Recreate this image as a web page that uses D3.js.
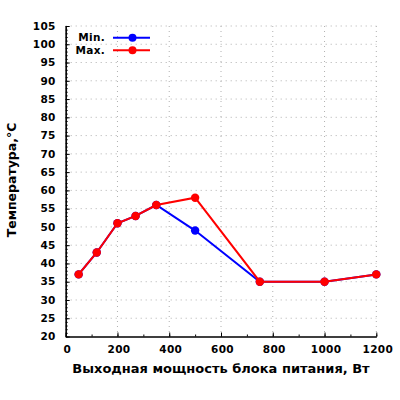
<!DOCTYPE html>
<html><head><meta charset="utf-8">
<script src="https://cdn.jsdelivr.net/npm/d3@7"></script>
<style>
body{margin:0;background:#fff;}
text{font-family:"DejaVu Sans",sans-serif;font-weight:bold;fill:#000;}
</style></head>
<body><svg id="c" width="400" height="400"></svg>
<script>
const powerW = [50, 120, 200, 270, 350, 500, 750, 1000, 1200];
const minTemp = [37, 43, 51, 53, 56, 49, 35, 35, 37];
const maxTemp = [37, 43, 51, 53, 56, 58, 35, 35, 37];
const xTicks = [0, 200, 400, 600, 800, 1000, 1200];
const yTicks = [20,25,30,35,40,45,50,55,60,65,70,75,80,85,90,95,100,105];
const seriesNames = ["Min.", "Max."];
const seriesColors = ["#0000ff", "#ff0000"];

const svg = d3.select("#c");
const L = 65.7, R = 376.3, T = 26, B = 336.5;
const x = d3.scaleLinear().domain([0, 1200]).range([L, R]);
const y = d3.scaleLinear().domain([20, 105]).range([B, T]);

// grid
const g = svg.append("g");
g.selectAll(".gy").data(yTicks.filter(d => d > 20)).join("line")
  .attr("x1", L).attr("x2", R).attr("y1", d => y(d)).attr("y2", d => y(d))
  .attr("stroke", "#b0b0b0").attr("stroke-width", 1).attr("stroke-dasharray", "1,4");
g.selectAll(".gx").data(xTicks.filter(d => d > 0)).join("line")
  .attr("y1", T).attr("y2", B).attr("x1", d => x(d)).attr("x2", d => x(d))
  .attr("stroke", "#b0b0b0").attr("stroke-width", 1).attr("stroke-dasharray", "1,4");

// axes
const axes = [
  [d3.axisRight(y).tickValues(d3.range(20, 106, 1)).tickSize(2), `translate(${L},0)`],
  [d3.axisRight(y).tickValues(yTicks).tickSize(4), `translate(${L},0)`],
  [d3.axisTop(x).tickValues(d3.range(0, 1201, 100)).tickSize(2), `translate(0,${B})`],
  [d3.axisTop(x).tickValues(xTicks).tickSize(4), `translate(0,${B})`]
];
axes.forEach(([a, tr]) => {
  const ga = svg.append("g").attr("transform", tr).call(a.tickFormat("").tickSizeOuter(0));
  ga.select(".domain").attr("stroke", "#000").attr("stroke-width", 1.2);
  ga.selectAll(".tick line").attr("stroke", "#000");
});

// tick labels
svg.append("g").selectAll("text").data(yTicks).join("text")
  .attr("x", L - 10).attr("y", d => y(d)).attr("dy", "0.36em")
  .attr("text-anchor", "end").attr("font-size", 10.5).attr("letter-spacing", 0.3).text(d => d);
svg.append("g").selectAll("text").data(xTicks).join("text")
  .attr("x", d => x(d) + 1.5).attr("y", 352.5)
  .attr("text-anchor", "middle").attr("font-size", 10.5).attr("letter-spacing", 0.3).text(d => d);

// titles
svg.append("text").attr("x", (L + R) / 2).attr("y", 373).attr("text-anchor", "middle")
  .attr("font-size", 13).text("Выходная мощность блока питания, Вт");
svg.append("text").attr("transform", "translate(16,180) rotate(-90)").attr("text-anchor", "middle")
  .attr("font-size", 12.5).text("Температура,°C");

// series
const series = [minTemp, maxTemp];
const line = d3.line().x((d, i) => x(powerW[i])).y(d => y(d));
series.forEach((s, k) => {
  svg.append("path").datum(s).attr("d", line).attr("fill", "none")
    .attr("stroke", seriesColors[k]).attr("stroke-width", 2);
  svg.append("g").selectAll("circle").data(s).join("circle")
    .attr("cx", (d, i) => x(powerW[i])).attr("cy", d => y(d)).attr("r", 4.2)
    .attr("fill", seriesColors[k]);
});

// legend
seriesNames.forEach((n, k) => {
  const ly = 37.7 + k * 12.5;
  svg.append("text").attr("x", 105).attr("y", ly).attr("dy", "0.36em")
    .attr("text-anchor", "end").attr("font-size", 10.5).attr("letter-spacing", 0.3).text(n);
  svg.append("line").attr("x1", 113).attr("x2", 150).attr("y1", ly).attr("y2", ly)
    .attr("stroke", seriesColors[k]).attr("stroke-width", 2);
  svg.append("circle").attr("cx", 132.5).attr("cy", ly).attr("r", 4).attr("fill", seriesColors[k]);
});
</script></body></html>
